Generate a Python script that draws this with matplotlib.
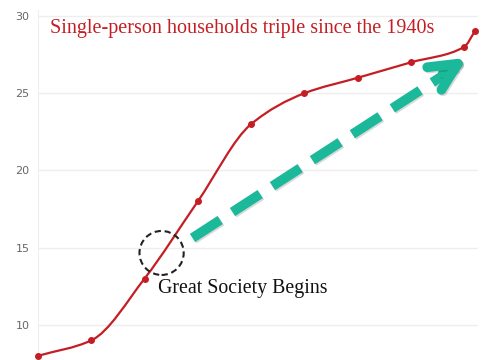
import numpy as np
import matplotlib.pyplot as plt
import matplotlib.patheffects as pe
from matplotlib.path import Path
from matplotlib.patches import PathPatch, Ellipse

# share of households with one person (%)
years = [1940, 1950, 1960, 1970, 1980, 1990, 2000, 2010, 2020, 2022]
share = [8, 9, 13, 18, 23, 25, 26, 27, 28, 29]
y_ticks = [10, 15, 20, 25, 30]

title = "Single-person households triple since the 1940s"
note = "Great Society Begins"

RED = "#c41e24"
TEAL = "#1bb99a"


# monotone cubic (pchip-like) curve through the points, as bezier segments
def smooth_path(x, y):
    x = np.asarray(x, float)
    y = np.asarray(y, float)
    h = np.diff(x)
    d = np.diff(y) / h
    m = np.zeros_like(y)
    m[0], m[-1] = d[0], d[-1]
    for k in range(1, len(x) - 1):
        if d[k - 1] * d[k] <= 0:
            m[k] = 0
        else:
            w1 = 2 * h[k] + h[k - 1]
            w2 = h[k] + 2 * h[k - 1]
            m[k] = (w1 + w2) / (w1 / d[k - 1] + w2 / d[k])
    verts = [(x[0], y[0])]
    codes = [Path.MOVETO]
    for k in range(len(x) - 1):
        verts += [(x[k] + h[k] / 3, y[k] + m[k] * h[k] / 3),
                  (x[k + 1] - h[k] / 3, y[k + 1] - m[k + 1] * h[k] / 3),
                  (x[k + 1], y[k + 1])]
        codes += [Path.CURVE4] * 3
    return Path(verts, codes)


fig = plt.figure(figsize=(4.85, 3.6), dpi=100)
ax = fig.add_axes([38 / 485, 0, 440 / 485, 350 / 360])

ax.add_patch(PathPatch(smooth_path(years, share), facecolor="none",
                       edgecolor=RED, lw=1.6, zorder=3, clip_on=False))
ax.plot(years, share, "o", color=RED, markersize=4, zorder=4, clip_on=False)

ax.set_xlim(1940, 2022.6)
ax.set_ylim(7.73, 30.39)
ax.set_yticks(y_ticks)
ax.set_xticks([])
ax.grid(axis="y", color="#eeeeee", lw=1)
ax.set_axisbelow(True)
for s in ["top", "right", "bottom"]:
    ax.spines[s].set_visible(False)
ax.spines["left"].set_color("#eeeeee")
ax.tick_params(axis="y", length=0, pad=6, labelsize=8, labelcolor="#666666")

# dashed circle around 1963
ax.add_patch(Ellipse((1963.2, 14.66), 8.3, 2.85, fill=False, ls=(0, (3, 1.8)),
                     lw=1.5, edgecolor="#222222", zorder=5))

# big dashed arrow
shadow = [pe.SimpleLineShadow(offset=(1, -1), alpha=0.15), pe.Normal()]
ax.plot([1969.0, 2018.5], [15.63, 26.7], color=TEAL, lw=7,
        dashes=(3.4, 1.5), solid_capstyle="butt", path_effects=shadow, zorder=5)
ax.annotate("", xy=(2020.6, 27.3), xytext=(2016.0, 26.3),
            arrowprops=dict(arrowstyle="->,head_length=1.0,head_width=0.48",
                            color=TEAL, lw=7, mutation_scale=20,
                            shrinkA=0, shrinkB=0, path_effects=shadow),
            zorder=5)

fig.text(50 / 485, 1 - 28 / 360, title, color=RED, fontsize=14.5,
         family="Liberation Serif", va="center", ha="left")
fig.text(158 / 485, 1 - 288 / 360, note, color="#111111", fontsize=14.3,
         family="Liberation Serif", va="center", ha="left")

fig.savefig("out.png", dpi=100)
